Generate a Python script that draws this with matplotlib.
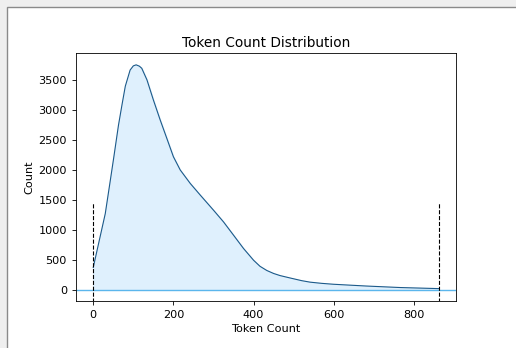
import matplotlib
matplotlib.use("Agg")
import matplotlib.pyplot as plt
from matplotlib.patches import Rectangle

# values
token_count = [0, 15, 30, 42, 51, 63, 72, 80, 92, 100, 107, 115, 121, 134, 150, 167, 184, 200,
               217, 242, 267, 300, 325, 350, 375, 400, 416, 433, 450, 466, 491, 520, 541, 570,
               599, 640, 682, 766, 862]
count = [370, 820, 1270, 1800, 2200, 2750, 3100, 3400, 3670, 3740, 3757, 3735, 3700, 3506, 3171,
         2836, 2520, 2221, 2000, 1775, 1580, 1328, 1132, 910, 687, 491, 390, 320, 270, 235, 195,
         150, 125, 105, 90, 75, 60, 35, 17]
cutoffs = [0, 862]
cutoff_height = 1470
xticks = [0, 200, 400, 600, 800]
yticks = [0, 500, 1000, 1500, 2000, 2500, 3000, 3500]

fs = 8.1
fig = plt.figure(figsize=(5.16, 3.48), dpi=100, facecolor="#efefef")
# white canvas inside the grey window frame
fig.patches.append(Rectangle((7 / 516, -0.01), 1, 1.01 - 7 / 348, transform=fig.transFigure,
                             facecolor="white", edgecolor="#8a8a8a", linewidth=1.0, zorder=-10))

ax = fig.add_axes([76 / 516, 47 / 348, 380 / 516, 248 / 348])
ax.fill_between(token_count, count, 0, color="#dff0fd")
ax.plot(token_count, count, color="#1c5a8a", linewidth=0.8)
ax.axhline(0, color="#5bb6ec", linewidth=1.0)
ax.vlines(cutoffs, -300, cutoff_height, colors="black", linestyles="--", linewidth=0.8)

ax.set_xlim(-43, 905)
ax.set_ylim(-190, 3955)
ax.set_xticks(xticks)
ax.set_yticks(yticks)
ax.tick_params(labelsize=fs, width=0.6, length=3)
for s in ax.spines.values():
    s.set_linewidth(0.6)
ax.set_title("Token Count Distribution", fontsize=9.8, pad=4)
ax.set_xlabel("Token Count", fontsize=fs, labelpad=3)
ax.set_ylabel("Count", fontsize=fs, labelpad=3)

fig.savefig("out.png", dpi=100, facecolor=fig.get_facecolor())
